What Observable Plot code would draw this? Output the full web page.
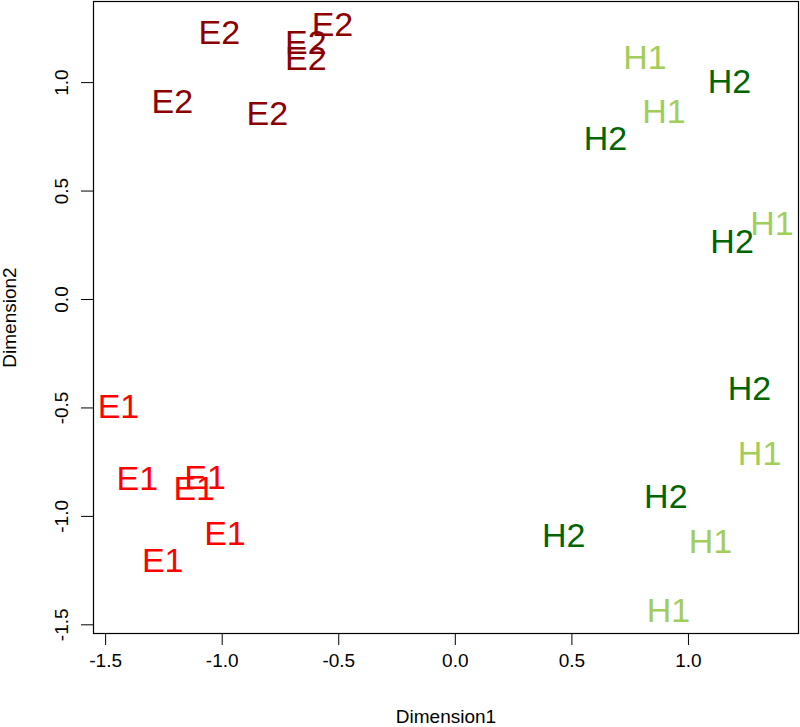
<!DOCTYPE html>
<html>
<head>
<meta charset="utf-8">
<script src="https://cdn.jsdelivr.net/npm/d3@7"></script>
<script src="https://cdn.jsdelivr.net/npm/@observablehq/plot@0.6"></script>
<style>
  html, body { margin: 0; padding: 0; background: #fff; }
  #chart svg { display: block; }
</style>
</head>
<body>
<div id="chart"></div>
<script>
const groups = ["E1", "E2", "H1", "H2"];
const groupColors = ["#ff0000", "#8b0000", "#a2cd5a", "#006400"];

const e1X = [-1.445, -1.364, -1.073, -1.120, -0.988, -1.255];
const e1Y = [-0.498, -0.829, -0.822, -0.872, -1.083, -1.207];

const e2X = [-1.012, -0.527, -0.641, -0.641, -1.214, -0.806];
const e2Y = [1.228, 1.265, 1.184, 1.107, 0.912, 0.857];

const h1X = [0.813, 0.895, 1.358, 1.305, 1.094, 0.914];
const h1Y = [1.112, 0.863, 0.346, -0.711, -1.118, -1.435];

const h2X = [1.176, 0.644, 1.187, 1.262, 0.903, 0.465];
const h2Y = [1.004, 0.738, 0.266, -0.411, -0.911, -1.089];

const xTicks = [-1.5, -1.0, -0.5, 0.0, 0.5, 1.0];
const yTicks = [-1.5, -1.0, -0.5, 0.0, 0.5, 1.0];
const xDomain = [-1.552, 1.472];
const yDomain = [-1.54, 1.374];

const series = [[e1X, e1Y], [e2X, e2Y], [h1X, h1Y], [h2X, h2Y]];
const rows = [];
series.forEach(([xs, ys], gi) => {
  xs.forEach((x, i) => rows.push({ group: groups[gi], x, y: ys[i] }));
});

const fmt = d => d.toFixed(1);
const font = "'Liberation Sans', Arial, Helvetica, sans-serif";

const chart = Plot.plot({
  width: 800,
  height: 727,
  marginLeft: 93,
  marginRight: 2,
  marginTop: 1,
  marginBottom: 94,
  style: { fontFamily: font, fontSize: "19px", color: "#000", background: "#fff" },
  x: { domain: xDomain },
  y: { domain: yDomain },
  color: { domain: groups, range: groupColors },
  marks: [
    Plot.frame({ stroke: "#000", strokeWidth: 1.2 }),
    Plot.axisX(xTicks, {
      tickSize: 12, tickPadding: 8, tickFormat: fmt, fontSize: 19,
      label: "Dimension1", labelAnchor: "center", labelArrow: "none", labelOffset: 89
    }),
    Plot.axisY(yTicks, {
      tickSize: 12, tickPadding: 14, tickFormat: fmt, tickRotate: -90, fontSize: 19,
      label: "Dimension2", labelAnchor: "center", labelArrow: "none", labelOffset: 91
    }),
    Plot.text(rows, {
      x: "x", y: "y", text: "group", fill: "group",
      fontSize: 34, fontFamily: font, textAnchor: "middle", lineAnchor: "middle"
    })
  ]
});

document.getElementById("chart").appendChild(chart);
</script>
</body>
</html>
